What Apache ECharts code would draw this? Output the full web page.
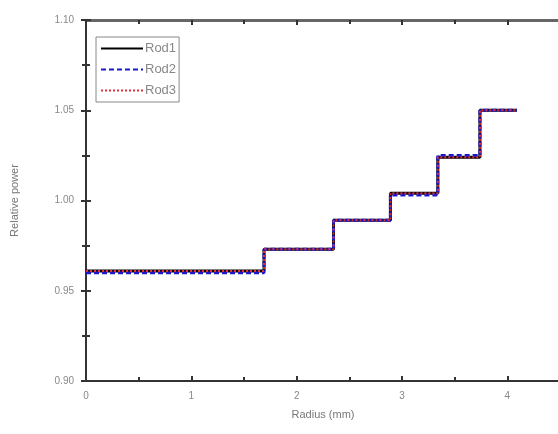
<!DOCTYPE html>
<html>
<head>
<meta charset="utf-8">
<script src="https://cdn.jsdelivr.net/npm/echarts@6/dist/echarts.min.js"></script>
<style>
  html, body { margin: 0; padding: 0; background: #fff; }
  #chart { width: 558px; height: 434px; }
</style>
</head>
<body>
<div id="chart"></div>
<script>
// step edges (mm) and the relative power on each step
var radius = [0, 1.69, 2.35, 2.89, 3.34, 3.74, 4.09];
var rod1 = [0.961, 0.973, 0.989, 1.004, 1.024, 1.050];
var rod2 = [0.960, 0.973, 0.989, 1.003, 1.025, 1.050];
var rod3 = [0.961, 0.973, 0.989, 1.004, 1.024, 1.050];

// build [x, y] points for a step line (last point closes the last step)
function steps(vals) {
  var pts = [];
  for (var i = 0; i < vals.length; i++) {
    pts.push([radius[i], vals[i]]);
  }
  pts.push([radius[radius.length - 1], vals[vals.length - 1]]);
  return pts;
}

var axisLine = { show: true, lineStyle: { color: '#333', width: 2 } };
var labelStyle = { color: '#888', fontSize: 10, fontFamily: 'Liberation Sans' };

var option = {
  backgroundColor: '#fff',
  animation: false,
  grid: { left: 86, top: 20, width: 474, height: 361, outerBoundsMode: 'none', containLabel: false },
  legend: {
    left: 96, top: 37,
    orient: 'vertical',
    itemWidth: 42, itemHeight: 10, itemGap: 8,
    padding: [5, 3, 5, 4],
    borderColor: '#888', borderWidth: 1,
    itemStyle: { opacity: 0 },
    textStyle: { color: '#888', fontSize: 13, fontFamily: 'Liberation Sans', padding: [0, 0, 0, -3] },
    data: ['Rod1', 'Rod2', 'Rod3']
  },
  xAxis: [{
    type: 'value', position: 'bottom',
    min: 0, max: 4.5, interval: 1,
    name: 'Radius (mm)', nameLocation: 'middle', nameGap: 28,
    nameTextStyle: { color: '#777', fontSize: 11, fontFamily: 'Liberation Sans' },
    axisLine: axisLine,
    axisTick: { inside: true, length: 5, lineStyle: { color: '#333', width: 2 } },
    minorTick: { show: true, splitNumber: 2, length: 4, lineStyle: { color: '#333', width: 2 } },
    axisLabel: Object.assign({
      margin: 10,
      formatter: function (v) { return v % 1 === 0 ? String(v) : ''; }
    }, labelStyle),
    splitLine: { show: false }
  }, {
    type: 'value', position: 'top',
    min: 0, max: 4.5, interval: 1,
    axisLine: { show: true, lineStyle: { color: '#666', width: 3 } },
    axisTick: { inside: true, length: 5, lineStyle: { color: '#333', width: 2 } },
    minorTick: { show: true, splitNumber: 2, length: 4, lineStyle: { color: '#333', width: 2 } },
    axisLabel: { show: false },
    splitLine: { show: false }
  }],
  yAxis: [{
    type: 'value', position: 'left',
    min: 0.9, max: 1.1, interval: 0.05,
    name: 'Relative power', nameLocation: 'middle', nameGap: 66,
    nameTextStyle: { color: '#777', fontSize: 11, fontFamily: 'Liberation Sans' },
    axisLine: axisLine,
    axisTick: { inside: true, length: 5, lineStyle: { color: '#333', width: 2 } },
    minorTick: { show: true, splitNumber: 2, length: 4, lineStyle: { color: '#333', width: 2 } },
    axisLabel: Object.assign({
      margin: 12,
      formatter: function (v) { return v.toFixed(2); }
    }, labelStyle),
    splitLine: { show: false }
  }, {
    type: 'value', position: 'right',
    min: 0.9, max: 1.1, interval: 0.05,
    axisLine: axisLine,
    axisTick: { inside: true, length: 5, lineStyle: { color: '#333', width: 2 } },
    minorTick: { show: true, splitNumber: 2, length: 4, lineStyle: { color: '#333', width: 2 } },
    axisLabel: { show: false },
    splitLine: { show: false }
  }],
  series: [{
    name: 'Rod1', type: 'line', step: 'end', showSymbol: false, symbol: 'none',
    lineStyle: { color: '#000', width: 3, type: 'solid' },
    itemStyle: { color: '#000' },
    data: steps(rod1)
  }, {
    name: 'Rod2', type: 'line', step: 'end', showSymbol: false, symbol: 'none',
    lineStyle: { color: '#1a1acc', width: 3, type: [5, 3] },
    itemStyle: { color: '#1a1acc' },
    data: steps(rod2)
  }, {
    name: 'Rod3', type: 'line', step: 'end', showSymbol: false, symbol: 'none',
    lineStyle: { color: '#e0303a', width: 2, type: [2, 2] },
    itemStyle: { color: '#e0303a' },
    data: steps(rod3)
  }]
};

echarts.init(document.getElementById('chart'), null, { renderer: 'canvas' }).setOption(option);
</script>
</body>
</html>
